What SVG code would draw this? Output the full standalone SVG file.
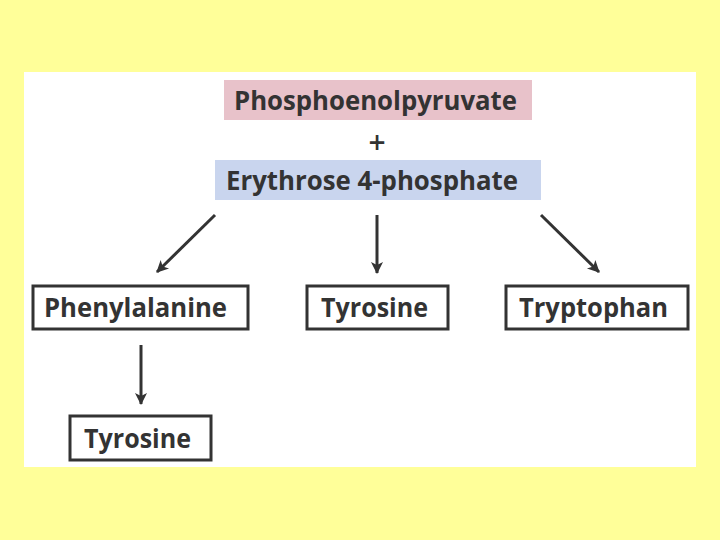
<svg xmlns="http://www.w3.org/2000/svg" width="720" height="540" viewBox="0 0 720 540">
<defs>
<style>
.t{font-family:"Open Sans","Noto Sans",sans-serif;font-weight:700;fill:#333;font-size:27px}
.box{fill:#fff;stroke:#333;stroke-width:3}
.c{stroke:#333;stroke-width:3;fill:none}
</style>
<marker id="ah" viewBox="0 0 14 14" refX="12" refY="7" markerWidth="14" markerHeight="14" markerUnits="userSpaceOnUse" orient="auto">
<path d="M1,1 L13,7 L1,13 L4,7 Z" fill="#333"/>
</marker>
</defs>
<rect width="720" height="540" fill="#FFFF99"/>
<rect x="24" y="72" width="672" height="395" fill="#fff"/>
<g id="pep">
<rect x="224" y="80" width="308" height="40" fill="#E8C2CA"/>
<text class="t" x="234" y="110" textLength="283" lengthAdjust="spacingAndGlyphs">Phosphoenolpyruvate</text>
</g>
<g id="plus"><text x="377" y="153" text-anchor="middle" font-family="Open Sans, sans-serif" font-weight="600" font-size="30" fill="#333">+</text></g>
<g id="e4p">
<rect x="215" y="160" width="326" height="40" fill="#C9D5EE"/>
<text class="t" x="226" y="190" textLength="292" lengthAdjust="spacingAndGlyphs">Erythrose 4-phosphate</text>
</g>
<g id="phe">
<rect class="box" x="33" y="286" width="215" height="43"/>
<text class="t" x="44" y="317" textLength="183" lengthAdjust="spacingAndGlyphs">Phenylalanine</text>
</g>
<g id="tyr1">
<rect class="box" x="307" y="286" width="141" height="43"/>
<text class="t" x="321" y="317" textLength="107" lengthAdjust="spacingAndGlyphs">Tyrosine</text>
</g>
<g id="trp">
<rect class="box" x="506" y="286" width="182" height="43"/>
<text class="t" x="519" y="317" textLength="149" lengthAdjust="spacingAndGlyphs">Tryptophan</text>
</g>
<g id="tyr2">
<rect class="box" x="70" y="416" width="141" height="44"/>
<text class="t" x="84" y="448" textLength="107" lengthAdjust="spacingAndGlyphs">Tyrosine</text>
</g>
<g id="connectors">
<line class="c" x1="215" y1="215" x2="157" y2="272" marker-end="url(#ah)"/>
<line class="c" x1="377" y1="215" x2="377" y2="273" marker-end="url(#ah)"/>
<line class="c" x1="541" y1="215" x2="599" y2="272" marker-end="url(#ah)"/>
<line class="c" x1="141" y1="345" x2="141" y2="404" marker-end="url(#ah)"/>
</g>
</svg>
